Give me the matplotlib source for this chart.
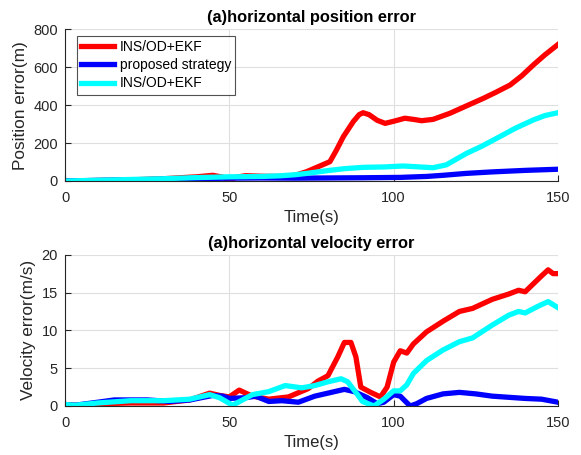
import matplotlib
matplotlib.use("Agg")
import matplotlib.pyplot as plt

plt.rcParams['font.family'] = ['Liberation Sans', 'DejaVu Sans']

# ---- data: horizontal position error ----
pos_red_t = [0, 10, 20, 30, 40, 45, 48, 50, 52, 55, 60, 65, 70, 73.5, 77, 80.6, 82.5, 84.7, 87.7, 89.5,
             90.7, 92.5, 95, 97.4, 100, 103.4, 106, 108.5, 112, 117.1, 122, 127.3, 131, 135.4, 139,
             142.5, 146, 150]
pos_red_y = [0, 3, 6, 12, 22, 30, 20, 3, 20, 28, 25, 24, 30, 49, 75, 102, 160, 234, 313, 350,
             360, 350, 320, 304, 315, 331, 325, 318, 325, 357, 395, 436, 467, 506, 555,
             612, 665, 720]
pos_blue_t = [0, 20, 40, 50, 60, 70, 80, 90, 102, 110, 115, 122, 130, 140, 150]
pos_blue_y = [0, 6, 12, 15, 16, 15, 16, 17, 19, 24, 30, 40, 48, 56, 62]
pos_cyan_t = [0, 10, 20, 30, 40, 50, 60, 65, 70, 73.5, 80, 85, 90.8, 97, 102.9, 108, 112, 116,
              122.2, 127, 132.3, 137, 142.5, 146, 150]
pos_cyan_y = [0, 4, 8, 12, 18, 22, 24, 27, 33, 40, 55, 65, 72, 74, 79, 74, 70, 85,
              146, 185, 234, 278, 322, 345, 360]

# ---- data: horizontal velocity error ----
vel_red_t = [0, 3, 10, 20, 30, 38, 44, 47, 50, 53, 57, 62, 68, 74, 77, 80, 83, 85, 87, 88.5, 90,
             93, 96, 98, 100, 102, 104, 106, 110, 115, 120, 124, 130, 135, 138, 140, 145, 147,
             148.5, 150]
vel_red_y = [0.2, 0.1, 0.3, 0.4, 0.4, 0.8, 1.7, 1.4, 1.2, 2.1, 1.3, 0.9, 1.2, 2.3, 3.3, 4.0, 6.5,
             8.4, 8.4, 6.5, 2.5, 1.8, 1.2, 2.5, 5.8, 7.3, 7.0, 8.2, 9.8, 11.2, 12.5, 12.9, 14.1,
             14.8, 15.3, 15.1, 17.2, 18.0, 17.5, 17.5]
vel_blue_t = [0, 3, 10, 15, 25, 32, 38, 45, 48, 50, 55, 58, 62, 66, 71, 76, 80, 85, 88, 92, 95, 97,
              100, 102, 105, 107, 110, 115, 120, 125, 130, 140, 145, 150]
vel_blue_y = [0.2, 0.1, 0.5, 0.8, 0.8, 0.6, 0.8, 1.4, 1.3, 1.0, 1.1, 1.3, 0.6, 0.7, 0.5, 1.3, 1.7,
              2.2, 1.9, 1.1, 0.3, 0.5, 1.5, 1.3, 0.0, 0.3, 1.0, 1.6, 1.8, 1.6, 1.3, 1.0, 0.9, 0.5]
vel_cyan_t = [0, 3, 10, 20, 30, 38, 44, 47, 51, 54, 57, 62, 67, 72, 76, 80, 84, 86, 89, 90.5, 94,
              97, 100, 102, 104, 106, 110, 115, 120, 124, 130, 135, 138, 140, 144, 147, 150]
vel_cyan_y = [0.2, 0.1, 0.4, 0.7, 0.7, 0.9, 1.5, 1.1, 0.1, 0.8, 1.5, 1.9, 2.7, 2.4, 2.7, 3.2, 3.6,
              3.2, 1.5, 0.6, 0.0, 0.9, 2.0, 2.0, 2.8, 4.3, 6.0, 7.4, 8.5, 9.0, 10.7, 12.0, 12.5,
              12.3, 13.2, 13.8, 13.0]

labels = ["INS/OD+EKF", "proposed strategy", "INS/OD+EKF"]
colors = ["#ff0000", "#0000ff", "#00ffff"]
xticks = [0, 50, 100, 150]
pos_yticks = [0, 200, 400, 600, 800]
vel_yticks = [0, 5, 10, 15, 20]

fig = plt.figure(figsize=(5.81, 4.55), dpi=100)
ax1 = fig.add_axes([0.1119, 0.6022, 0.8485, 0.3334])
ax2 = fig.add_axes([0.1119, 0.1077, 0.8485, 0.3325])

LW = 3.8
TXT = '#262626'

def style(ax, yticks, ylabel, title):
    ax.set_xlim(0, 150)
    ax.set_ylim(yticks[0], yticks[-1])
    ax.set_xticks(xticks)
    ax.set_yticks(yticks)
    ax.grid(True, color='#dfdfdf', linewidth=0.8)
    ax.set_axisbelow(True)
    for s in ['top', 'right']:
        ax.spines[s].set_visible(False)
    for s in ['left', 'bottom']:
        ax.spines[s].set_color('#262626')
        ax.spines[s].set_linewidth(0.8)
    ax.tick_params(direction='in', length=4, width=0.8, labelsize=10.5, colors=TXT)
    ax.tick_params(axis='x', pad=7)
    ax.tick_params(axis='y', pad=5)
    ax.set_xlabel('Time(s)', fontsize=12, color=TXT, labelpad=4)
    ax.set_ylabel(ylabel, fontsize=12.4, color=TXT)
    ax.set_title(title, fontsize=11.8, fontweight='bold', pad=5)

ax1.plot(pos_red_t, pos_red_y, color=colors[0], lw=LW, label=labels[0])
ax1.plot(pos_blue_t, pos_blue_y, color=colors[1], lw=LW, label=labels[1])
ax1.plot(pos_cyan_t, pos_cyan_y, color=colors[2], lw=LW, label=labels[2])
style(ax1, pos_yticks, 'Position error(m)', '(a)horizontal position error')
leg = ax1.legend(loc='upper left', bbox_to_anchor=(0.024, 0.956), fontsize=10, frameon=True,
                 fancybox=False, edgecolor='#262626', handlelength=2.4, borderpad=0.3,
                 labelspacing=0.3, handletextpad=0.4, borderaxespad=0)
leg.get_frame().set_linewidth(0.8)

ax2.plot(vel_red_t, vel_red_y, color=colors[0], lw=LW)
ax2.plot(vel_blue_t, vel_blue_y, color=colors[1], lw=LW)
ax2.plot(vel_cyan_t, vel_cyan_y, color=colors[2], lw=LW)
style(ax2, vel_yticks, 'Velocity error(m/s)', '(a)horizontal velocity error')

fig.savefig('out.png', dpi=100)
